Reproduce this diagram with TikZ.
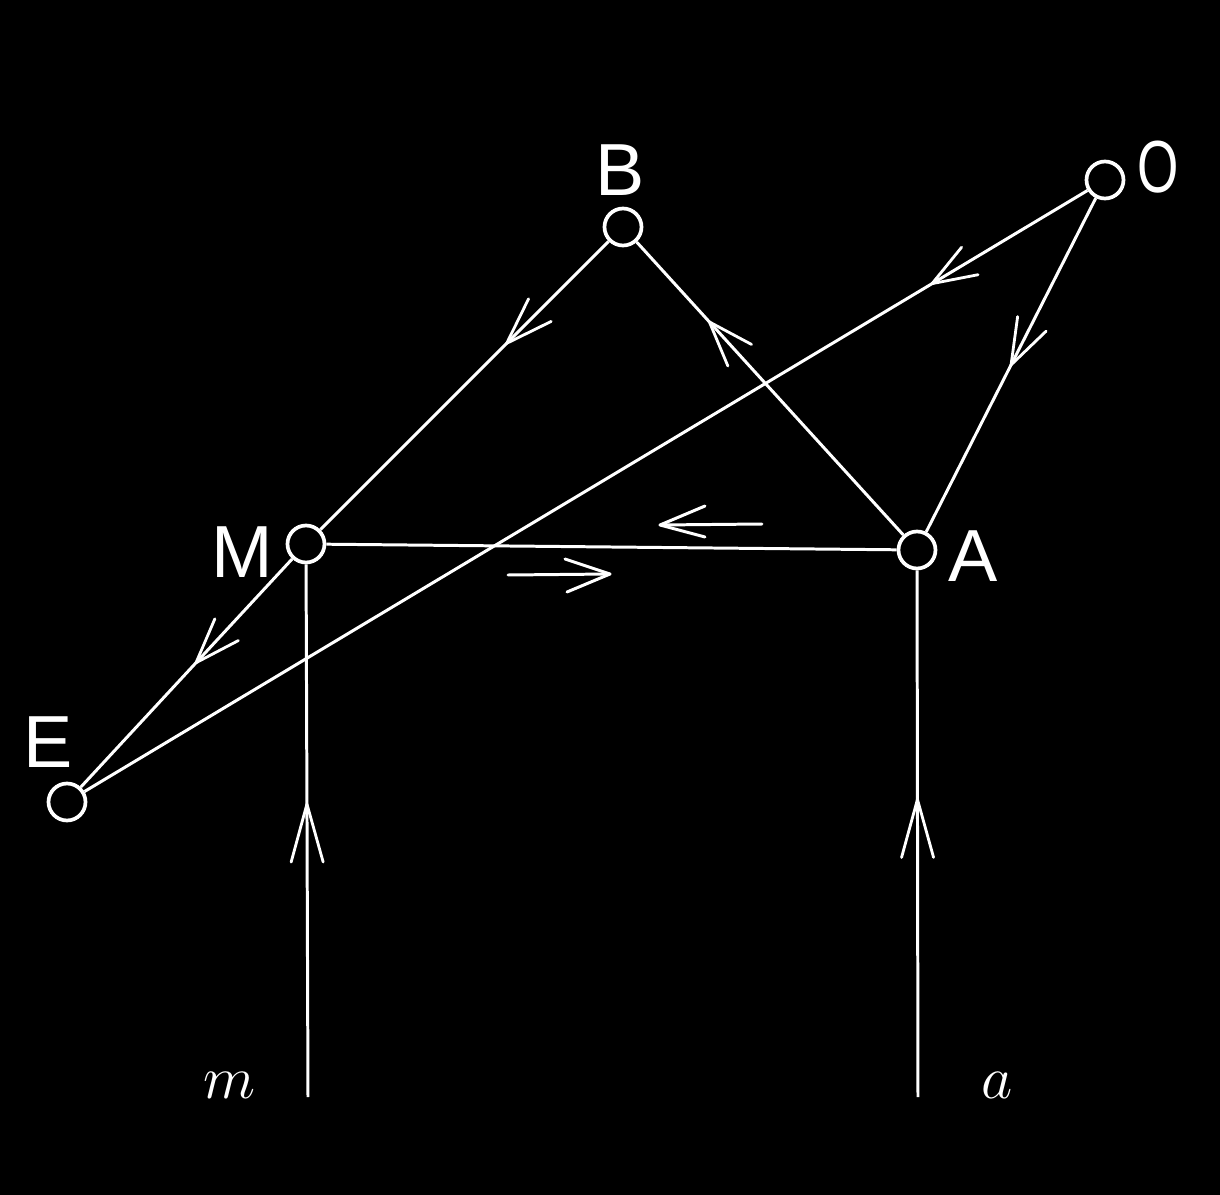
\documentclass[tikz,border=0pt]{standalone}
\usepackage{fontspec}
\newfontfamily\labfont{Liberation Sans}
\usetikzlibrary{decorations.markings}
\begin{document}
\begin{tikzpicture}[
  pt/.style={circle, draw=white, line width=1.05pt, minimum size=0.37cm, inner sep=0pt},
  lab/.style={text=white, font=\labfont\fontsize{21}{21}\selectfont, inner sep=0pt},
  ital/.style={text=white, font=\fontsize{17}{17}\selectfont, inner sep=0pt},
  wire/.style={draw=white, line width=0.85pt},
  barb/.style 2 args={postaction={decorate}, decoration={markings,
     mark=at position #1 with {\draw[white, line width=0.8pt, line cap=round] (0,0) -- (-#2,0.16) (0,0) -- (-#2,-0.16);}}},
]
\fill[black] (0,0) rectangle (12.2,-11.95);
\useasboundingbox (0,0) rectangle (12.2,-11.95);

% points
\node[pt] (B) at (6.23,-2.27) {};
\node[pt] (O) at (11.05,-1.80) {};
\node[pt] (M) at (3.06,-5.44) {};
\node[pt] (A) at (9.17,-5.50) {};
\node[pt] (E) at (0.67,-8.02) {};
\coordinate (mb) at (3.08,-10.97);
\coordinate (ab) at (9.18,-10.97);

% labels
\node[lab] (lB) at (6.20,-1.70) {B};
\node[lab, xscale=0.72] (lO) at (11.58,-1.67) {O};
\node[lab] (lM) at (2.42,-5.52) {M};
\node[lab] (lA) at (9.73,-5.56) {A};
\node[lab] (lE) at (0.48,-7.42) {E};
\node[ital] (lm) at (2.30,-10.85) {$m$};
\node[ital] (la) at (9.97,-10.85) {$a$};

% connectors
\draw[wire, barb={0.355}{0.47}] (B) -- (M);
\draw[wire, barb={0.73}{0.45}] (A) -- (B);
\draw[wire, barb={0.155}{0.44}] (O) -- (E);
\draw[wire, barb={0.50}{0.46}] (O) -- (A);
\draw[wire, barb={0.455}{0.45}] (M) -- (E);
\draw[wire] (A) -- (M);
\draw[wire, barb={0.55}{0.58}] (mb) -- (M);
\draw[wire, barb={0.565}{0.58}] (ab) -- (A);

% free direction arrows beside A--M
\coordinate (u1) at (7.62,-5.24);
\coordinate (u2) at (6.60,-5.25);
\draw[wire, line cap=round] (u1) -- (u2);
\draw[wire, line cap=round] (u2) -- ++(0.45,0.19) (u2) -- ++(0.45,-0.12);
\coordinate (d1) at (5.08,-5.75);
\coordinate (d2) at (6.10,-5.74);
\draw[wire, line cap=round] (d1) -- (d2);
\draw[wire, line cap=round] (d2) -- ++(-0.45,0.15) (d2) -- ++(-0.43,-0.18);
\end{tikzpicture}
\end{document}
